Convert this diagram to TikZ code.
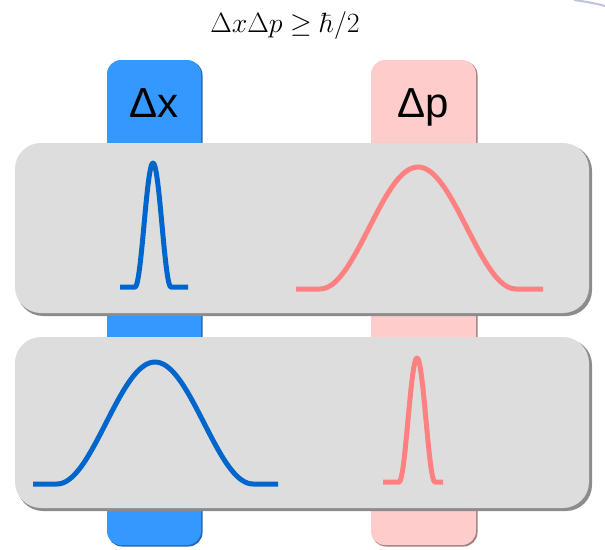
\documentclass[tikz,border=0pt]{standalone}
\usepackage{fontspec}
\newfontfamily\labelfont{Liberation Sans}
\definecolor{colblue}{HTML}{3399FF}
\definecolor{colblueshadow}{HTML}{2868B0}
\definecolor{colpink}{HTML}{FFCCCC}
\definecolor{colpinkshadow}{HTML}{A08080}
\definecolor{boxgray}{HTML}{DDDDDD}
\definecolor{boxshadow}{HTML}{8C8C8C}
\definecolor{curveblue}{HTML}{0066CC}
\definecolor{curvepink}{HTML}{FF8080}
\definecolor{arclav}{HTML}{C0C0E0}
\tikzset{
  column/.style={rounded corners=14pt},
  panel/.style={rounded corners=26pt, fill=boxgray},
  panelshadow/.style={rounded corners=26pt, fill=boxshadow},
  curve/.style={line width=5pt, line join=round},
  collabel/.style={font=\labelfont\fontsize{42}{48}\selectfont, inner sep=0pt, anchor=base}
}
\begin{document}
\begin{tikzpicture}[x=1pt,y=-1pt]
\useasboundingbox (0,0) rectangle (605,549);
% faint arc at top right
\draw[arclav, line width=2pt] (574,0) .. controls (585,1.5) and (596,3.5) .. (605,6);
% formula
\node[inner sep=0pt, scale=1.12] (eq) at (285,26) {\fontsize{24.88}{30}\selectfont$\Delta x\Delta p \geq \hbar/2$};
% columns
\fill[colblueshadow, column] (108,61) rectangle (202.5,546.5);
\fill[colblue, column] (107,60) rectangle (201,545);
\fill[colpinkshadow, column] (372,61) rectangle (477.5,546.5);
\fill[colpink, column] (371,60) rectangle (476,545);
\node[collabel] (dx) at (154,117) {Δx};
\node[collabel] (dp) at (423,117) {Δp};
% panels
\fill[panelshadow] (17,145) rectangle (592,316);
\fill[panel] (15,143) rectangle (589,313);
\fill[panelshadow] (17,339) rectangle (592,511);
\fill[panel] (15,337) rectangle (589,508);
% top panel curves
\draw[curve, curveblue] (120,287) -- (135,287)
  -- plot[domain=-18:18, samples=50] ({153+\x},{287-62*(1+cos(10*\x))})
  -- (188,287);
\draw[curve, curvepink] (296,289) -- (320,289)
  -- plot[domain=-98:98, samples=80] ({418+\x},{289-61*(1+cos(1.83673*\x))})
  -- (543,289);
% bottom panel curves
\draw[curve, curveblue] (33,484) -- (57,484)
  -- plot[domain=-98:98, samples=80] ({155+\x},{484-61*(1+cos(1.83673*\x))})
  -- (278,484);
\draw[curve, curvepink] (383,482) -- (399,482)
  -- plot[domain=-18:18, samples=50] ({417+\x},{482-62*(1+cos(10*\x))})
  -- (443,482);
\end{tikzpicture}
\end{document}
